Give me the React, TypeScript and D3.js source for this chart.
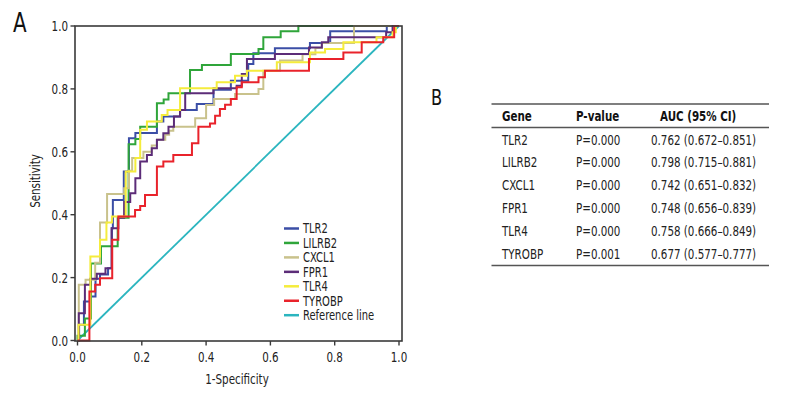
import React from "react";
import * as d3 from "d3";

// ---------- DATA ----------
const seriesNames = ["TLR2", "LILRB2", "CXCL1", "FPR1", "TLR4", "TYROBP"];
const seriesColors = ["#3b4ea6", "#2fa53a", "#c9c28c", "#5c2c78", "#f5ec3c", "#e9232b"];
const refName = "Reference line";
const refColor = "#2bb5bf";

// ROC vertices [1-specificity, sensitivity]
const tlr2: [number, number][] = [
  [0, 0], [0.005, 0], [0.005, 0.05], [0.02, 0.05], [0.02, 0.124], [0.04, 0.124], [0.04, 0.14],
  [0.056, 0.14], [0.056, 0.196], [0.07, 0.196], [0.07, 0.21], [0.095, 0.21], [0.095, 0.23],
  [0.107, 0.23], [0.107, 0.357], [0.11, 0.357], [0.11, 0.447], [0.144, 0.447], [0.144, 0.537],
  [0.16, 0.537], [0.16, 0.643], [0.18, 0.643], [0.18, 0.66], [0.247, 0.66], [0.247, 0.696],
  [0.267, 0.696], [0.267, 0.712], [0.319, 0.712], [0.319, 0.733], [0.371, 0.733], [0.371, 0.752],
  [0.423, 0.752], [0.423, 0.797], [0.477, 0.797], [0.477, 0.826], [0.531, 0.826], [0.531, 0.879],
  [0.547, 0.879], [0.547, 0.913], [0.614, 0.913], [0.614, 0.929], [0.723, 0.929], [0.723, 0.946],
  [0.786, 0.946], [0.786, 0.983], [0.962, 0.983], [0.962, 1], [1, 1],
];
const lilrb2: [number, number][] = [
  [0, 0], [0, 0.015], [0.023, 0.015], [0.023, 0.07], [0.042, 0.07], [0.042, 0.245], [0.073, 0.245],
  [0.073, 0.3], [0.125, 0.3], [0.125, 0.39], [0.159, 0.39], [0.159, 0.624], [0.18, 0.624],
  [0.18, 0.641], [0.195, 0.641], [0.195, 0.68], [0.247, 0.68], [0.247, 0.754], [0.268, 0.754],
  [0.268, 0.766], [0.283, 0.766], [0.283, 0.786], [0.35, 0.786], [0.35, 0.86], [0.387, 0.86],
  [0.387, 0.876], [0.477, 0.876], [0.477, 0.911], [0.563, 0.911], [0.563, 0.927], [0.578, 0.927],
  [0.578, 0.964], [0.632, 0.964], [0.632, 0.983], [0.687, 0.983], [0.687, 1], [1, 1],
];
const cxcl1: [number, number][] = [
  [0, 0], [0.004, 0], [0.004, 0.177], [0.025, 0.177], [0.025, 0.193], [0.055, 0.193], [0.055, 0.247],
  [0.07, 0.247], [0.07, 0.375], [0.092, 0.375], [0.092, 0.466], [0.145, 0.466], [0.145, 0.484],
  [0.16, 0.484], [0.16, 0.54], [0.17, 0.54], [0.17, 0.58], [0.205, 0.58], [0.205, 0.6],
  [0.231, 0.6], [0.231, 0.62], [0.247, 0.62], [0.247, 0.638], [0.273, 0.638], [0.273, 0.654],
  [0.285, 0.654], [0.285, 0.667], [0.298, 0.667], [0.298, 0.68], [0.366, 0.68], [0.366, 0.707],
  [0.4, 0.707], [0.4, 0.749], [0.425, 0.749], [0.425, 0.768], [0.49, 0.768], [0.49, 0.784],
  [0.563, 0.784], [0.563, 0.8], [0.578, 0.8], [0.578, 0.858], [0.63, 0.858], [0.63, 0.89],
  [0.7, 0.89], [0.7, 0.91], [0.74, 0.91], [0.74, 0.93], [0.76, 0.93], [0.76, 0.946],
  [0.86, 0.946], [0.86, 1], [1, 1],
];
const fpr1: [number, number][] = [
  [0, 0], [0.004, 0], [0.004, 0.087], [0.023, 0.087], [0.023, 0.177], [0.04, 0.177], [0.04, 0.196],
  [0.06, 0.196], [0.06, 0.212], [0.087, 0.212], [0.087, 0.23], [0.106, 0.23], [0.106, 0.357],
  [0.127, 0.357], [0.127, 0.39], [0.145, 0.39], [0.145, 0.44], [0.164, 0.44], [0.164, 0.468],
  [0.18, 0.468], [0.18, 0.516], [0.195, 0.516], [0.195, 0.569], [0.216, 0.569], [0.216, 0.59],
  [0.231, 0.59], [0.231, 0.611], [0.247, 0.611], [0.247, 0.638], [0.267, 0.638], [0.267, 0.659],
  [0.283, 0.659], [0.283, 0.68], [0.3, 0.68], [0.3, 0.712], [0.319, 0.712], [0.319, 0.733],
  [0.335, 0.733], [0.335, 0.786], [0.423, 0.786], [0.423, 0.802], [0.495, 0.802], [0.495, 0.81],
  [0.511, 0.81], [0.511, 0.847], [0.527, 0.847], [0.527, 0.895], [0.614, 0.895], [0.614, 0.911],
  [0.72, 0.911], [0.72, 0.932], [0.76, 0.932], [0.76, 0.948], [0.78, 0.948], [0.78, 0.964],
  [0.96, 0.964], [0.96, 0.98], [0.98, 0.98], [0.98, 1], [1, 1],
];
const tlr4: [number, number][] = [
  [0, 0], [0.003, 0], [0.003, 0.05], [0.04, 0.05], [0.04, 0.267], [0.07, 0.267], [0.07, 0.32],
  [0.09, 0.32], [0.09, 0.375], [0.107, 0.375], [0.107, 0.394], [0.15, 0.394], [0.15, 0.537],
  [0.18, 0.537], [0.18, 0.58], [0.195, 0.58], [0.195, 0.67], [0.216, 0.67], [0.216, 0.696],
  [0.262, 0.696], [0.262, 0.717], [0.28, 0.717], [0.28, 0.733], [0.319, 0.733], [0.319, 0.802],
  [0.433, 0.802], [0.433, 0.821], [0.49, 0.821], [0.49, 0.842], [0.527, 0.842], [0.527, 0.858],
  [0.62, 0.858], [0.62, 0.885], [0.723, 0.885], [0.723, 0.916], [0.77, 0.916], [0.77, 0.927],
  [0.827, 0.927], [0.827, 0.948], [0.93, 0.948], [0.93, 0.964], [0.98, 0.964], [0.98, 0.98],
  [0.99, 0.98], [0.99, 1], [1, 1],
];
const tyrobp: [number, number][] = [
  [0, 0], [0.037, 0], [0.037, 0.156], [0.055, 0.156], [0.055, 0.177], [0.07, 0.177], [0.07, 0.198],
  [0.108, 0.198], [0.108, 0.32], [0.127, 0.32], [0.127, 0.394], [0.179, 0.394], [0.179, 0.415],
  [0.195, 0.415], [0.195, 0.428], [0.21, 0.428], [0.21, 0.463], [0.247, 0.463], [0.247, 0.553],
  [0.267, 0.553], [0.267, 0.569], [0.298, 0.569], [0.298, 0.59], [0.356, 0.59], [0.356, 0.627],
  [0.376, 0.627], [0.376, 0.68], [0.412, 0.68], [0.412, 0.69], [0.428, 0.69], [0.428, 0.715],
  [0.443, 0.715], [0.443, 0.736], [0.459, 0.736], [0.459, 0.75], [0.477, 0.75], [0.477, 0.768],
  [0.495, 0.768], [0.495, 0.805], [0.511, 0.805], [0.511, 0.821], [0.563, 0.821], [0.563, 0.837],
  [0.583, 0.837], [0.583, 0.858], [0.72, 0.858], [0.72, 0.895], [0.827, 0.895], [0.827, 0.916],
  [0.884, 0.916], [0.884, 0.948], [0.951, 0.948], [0.951, 0.964], [0.985, 0.964], [0.985, 1], [1, 1],
];
const seriesData = [tlr2, lilrb2, cxcl1, fpr1, tlr4, tyrobp];
const refLine: [number, number][] = [[0, 0], [1, 1]];

const tickValues = [0, 0.2, 0.4, 0.6, 0.8, 1.0];

// table
const tableHeaders = ["Gene", "P-value", "AUC (95% CI)"];
const tableGenes = ["TLR2", "LILRB2", "CXCL1", "FPR1", "TLR4", "TYROBP"];
const tablePValues = ["P=0.000", "P=0.000", "P=0.000", "P=0.000", "P=0.000", "P=0.001"];
const tableAUC = [
  "0.762 (0.672–0.851)",
  "0.798 (0.715–0.881)",
  "0.742 (0.651–0.832)",
  "0.748 (0.656–0.839)",
  "0.758 (0.666–0.849)",
  "0.677 (0.577–0.777)",
];

// ---------- LAYOUT ----------
const W = 795;
const H = 405;
const FONT = "'DejaVu Sans Condensed', 'DejaVu Sans', sans-serif";
const SX = 0.82; // horizontal compression to mimic the narrow face

type TProps = {
  x: number;
  y: number;
  size?: number;
  anchor?: "start" | "middle" | "end";
  weight?: string;
  rotate?: number;
  sx?: number;
  fill?: string;
  children: React.ReactNode;
};
function T({ x, y, size = 14, anchor = "start", weight = "normal", rotate = 0, sx = SX, fill = "#222", children }: TProps) {
  return (
    <text
      transform={`translate(${x},${y}) rotate(${rotate}) scale(${sx},1)`}
      dy="0.36em"
      fontSize={size}
      fontWeight={weight}
      textAnchor={anchor}
      fill={fill}
    >
      {children}
    </text>
  );
}

export default function App() {
  const x = d3.scaleLinear().domain([0, 1]).range([77.5, 399]);
  const y = d3.scaleLinear().domain([0, 1]).range([340.5, 26]);
  const line = d3
    .line<[number, number]>()
    .x((d) => x(d[0]))
    .y((d) => y(d[1]));

  const boxL = 75, boxR = 402, boxT = 26, boxB = 341;
  const axisColor = "#3a3a3a";

  const legendX = 284;
  const legendY0 = 228.5;
  const legendStep = 14.45;
  const legendItems = [...seriesNames.map((n, i) => ({ n, c: seriesColors[i] })), { n: refName, c: refColor }];

  // table geometry
  const tL = 491.5, tR = 769;
  const rowY = d3.scaleLinear().domain([0, 5]).range([139.5, 253.5]);
  const colX = [502, 576, 651];

  return (
    <svg
      width={W}
      height={H}
      style={{ position: "absolute", left: 0, top: 0, background: "#fff" }}
      fontFamily={FONT}
    >
      <rect x={0} y={0} width={W} height={H} fill="#fff" />
      {/* panel label */}
      <T x={13} y={22} size={27} fill="#111">A</T>

      {/* reference line */}
      <path d={line(refLine) || ""} fill="none" stroke={refColor} strokeWidth={1.8} />
      {seriesData.map((s, i) => (
        <path key={seriesNames[i]} d={line(s) || ""} fill="none" stroke={seriesColors[i]} strokeWidth={2} />
      ))}

      {/* frame */}
      <rect x={boxL} y={boxT} width={boxR - boxL} height={boxB - boxT} fill="none" stroke={axisColor} strokeWidth={1.6} />

      {/* y ticks */}
      {tickValues.map((t) => (
        <g key={"y" + t}>
          <line x1={boxL - 4.5} x2={boxL} y1={y(t)} y2={y(t)} stroke={axisColor} strokeWidth={1.4} />
          <T x={boxL - 7} y={y(t)} anchor="end">{t.toFixed(1)}</T>
        </g>
      ))}
      {/* x ticks */}
      {tickValues.map((t) => (
        <g key={"x" + t}>
          <line x1={x(t)} x2={x(t)} y1={boxB} y2={boxB + 4.5} stroke={axisColor} strokeWidth={1.4} />
          <T x={x(t)} y={357} anchor="middle">{t.toFixed(1)}</T>
        </g>
      ))}
      <T x={237} y={379} anchor="middle">1-Specificity</T>
      <T x={35} y={181} anchor="middle" rotate={-90}>Sensitivity</T>

      {/* legend */}
      {legendItems.map((it, i) => (
        <g key={it.n}>
          <line
            x1={legendX}
            x2={legendX + 15}
            y1={legendY0 + i * legendStep}
            y2={legendY0 + i * legendStep}
            stroke={it.c}
            strokeWidth={2.5}
          />
          <T x={303} y={legendY0 + i * legendStep} size={13.5}>{it.n}</T>
        </g>
      ))}

      {/* panel B */}
      <T x={431} y={97} size={22} fill="#111">B</T>
      <line x1={tL} x2={tR} y1={104} y2={104} stroke="#555" strokeWidth={1.3} />
      <line x1={tL} x2={tR} y1={127.5} y2={127.5} stroke="#555" strokeWidth={1.3} />
      <line x1={tL} x2={tR} y1={265.5} y2={265.5} stroke="#555" strokeWidth={1.3} />
      {tableHeaders.map((h, i) => (
        <T key={h} x={i === 2 ? 660 : colX[i]} y={115.5} weight="bold" fill="#111">{h}</T>
      ))}
      {tableGenes.map((g, i) => (
        <g key={g}>
          <T x={colX[0]} y={rowY(i)}>{g}</T>
          <T x={colX[1]} y={rowY(i)}>{tablePValues[i]}</T>
          <T x={colX[2]} y={rowY(i)}>{tableAUC[i]}</T>
        </g>
      ))}
    </svg>
  );
}
